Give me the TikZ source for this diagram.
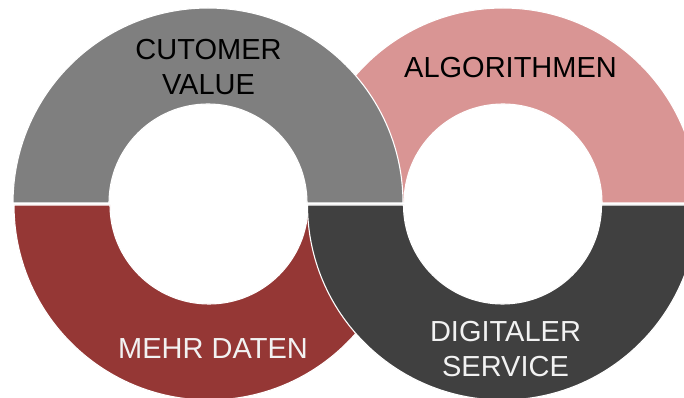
\documentclass[tikz,border=0pt]{standalone}
\usepackage{fontspec}
\setmainfont{Liberation Sans}
\definecolor{cvgray}{HTML}{7F7F7F}
\definecolor{algpink}{HTML}{D99594}
\definecolor{datred}{HTML}{953735}
\definecolor{svcdark}{HTML}{404040}
\definecolor{lighttxt}{HTML}{F2F2F2}
\tikzset{
  seg/.style={draw=white, line width=1.1pt, line join=miter},
  lbl/.style={font=\fontsize{29}{35}\selectfont, align=center, inner sep=0pt, anchor=base},
}
\newcommand{\tophalf}[4]{% center x, center y, R, style
  \path[#4] (#1-#3,#2) arc[start angle=180, end angle=0, radius=#3]
    -- (#1+99,#2) arc[start angle=0, end angle=180, radius=99] -- cycle;}
\newcommand{\bothalf}[4]{%
  \path[#4] (#1-#3,#2) arc[start angle=180, end angle=360, radius=#3]
    -- (#1+99,#2) arc[start angle=360, end angle=180, radius=99] -- cycle;}
\begin{document}
\begin{tikzpicture}[x=1pt,y=1pt]
\useasboundingbox (0,0) rectangle (684,398);
\clip (0,0) rectangle (684,398);
\fill[white] (0,0) rectangle (684,398);
% right ring, top (pink)
\tophalf{503}{195}{195}{seg, fill=algpink}
% left ring, top (gray)
\tophalf{208}{195}{195}{seg, fill=cvgray}
% left ring, bottom (red)
\bothalf{209}{193}{195}{seg, fill=datred}
% right ring, bottom (dark)
\bothalf{502.5}{193}{195}{seg, fill=svcdark}
% labels
\node[lbl, text=black] (cv) at (208.5,303) {CUTOMER\\VALUE};
\node[lbl, text=black] (alg) at (510.5,320) {ALGORITHMEN};
\node[lbl, text=lighttxt] (dat) at (213,39) {MEHR DATEN};
\node[lbl, text=lighttxt] (svc) at (505.5,21) {DIGITALER\\SERVICE};
\end{tikzpicture}
\end{document}
